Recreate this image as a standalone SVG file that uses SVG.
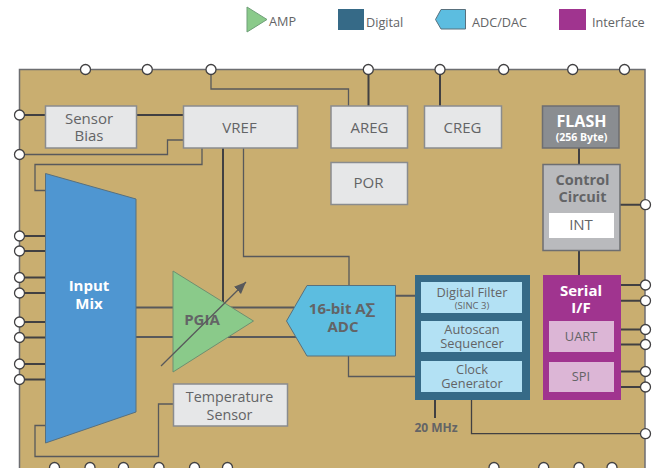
<svg xmlns="http://www.w3.org/2000/svg" width="656" height="468" viewBox="0 0 656 468">
<style>
text{font-family:"Open Sans","Noto Sans","Liberation Sans",sans-serif;fill:#636466;text-anchor:middle}
.l{font-size:12.7px;text-anchor:start}
.t{font-size:15px}
.s{font-size:12.8px}
.b{font-weight:700}
.w{fill:#fff}
.box{fill:#e6e7e8;stroke:#8a8c8e;stroke-width:1.5}
.thin{fill:none;stroke:#58595b;stroke-width:1.3}
.thick{fill:none;stroke:#414042;stroke-width:2}
.pin{fill:#fff;stroke:#414042;stroke-width:1.3}
.lt{fill:#b3e1f4}
.lp{fill:#dcb6d6}
</style>
<defs>
<circle id="p" class="pin" r="5"/>
<marker id="ah" markerUnits="userSpaceOnUse" markerWidth="14" markerHeight="12" refX="12" refY="5" orient="auto"><path d="M0 0L12 5L0 10z" fill="#58595b"/></marker>
</defs>
<g id="legend">
<path d="M247 7L267 19.5L247 32z" fill="#8aca8a" stroke="#6f9f78"/>
<text class="l" x="269" y="26">AMP</text>
<rect x="338" y="9" width="26" height="21" fill="#366a87"/>
<text class="l" x="366" y="26.500">Digital</text>
<path d="M435.500 19.500L441 9.500H465.500V29H441z" fill="#5cbde0" stroke="#58707d"/>
<text class="l" x="472" y="26.500">ADC/DAC</text>
<rect x="559" y="9" width="27" height="21" fill="#a0348f"/>
<text class="l" x="592" y="26.500">Interface</text>
</g>
<g id="chip"><path d="M19.500 475V69.500H645V475z" fill="#c9ae70" stroke="#6d6e71" stroke-width="1.500"/></g>
<g id="connectors">
<path class="thick" d="M19.500 115H183.500M223 148V307M368.500 69.500V106M440 69.500V106M579 148V164.500M579 250V275M620 204.700H645"/>
<path class="thin" d="M19.500 154.500H167.500V140H183.500M202 148V164.500H35V190.500H45.500M243.500 148V256.500H349V285.500M211 69.500V89H348.500V106M173.500 404H158.500V456.500H35V425.500H45.500M348.500 356V376.500H422"/>
<path class="thick" style="stroke:#58595b" d="M136 307.500H294M136 337H300M395.500 295.700H415"/>
<path class="thick" d="M19.500 236H45.500M19.500 251H45.500M19.500 277.500H45.500M19.500 293H45.500M19.500 322H45.500M19.500 337.500H45.500M19.500 364H45.500M19.500 379.500H45.500M621 285H645M621 300.700H645M621 329.500H645M621 344.500H645M621 371.500H645M621 387H645M435 391V418"/>
<path class="thin" style="stroke:#414042" d="M471.500 391V433.700H645"/>
</g>
<g id="sensor-bias"><rect class="box" x="45.500" y="106" width="91" height="42"/><text class="t"><tspan x="89" y="124">Sensor</tspan><tspan x="89" y="141">Bias</tspan></text></g>
<g id="vref"><rect class="box" x="183.500" y="106" width="114" height="42"/><text class="t" x="239.500" y="133">VREF</text></g>
<g id="areg"><rect class="box" x="331" y="106" width="76.500" height="42"/><text class="t" x="369.500" y="133">AREG</text></g>
<g id="creg"><rect class="box" x="424.500" y="106" width="77" height="42"/><text class="t" x="462.500" y="133">CREG</text></g>
<g id="por"><rect class="box" x="331" y="162.500" width="76.500" height="42"/><text class="t" x="368.500" y="188">POR</text></g>
<g id="flash"><rect x="542.500" y="106" width="76.500" height="42" fill="#8a8d91" stroke="#6d6e71" stroke-width="1.500"/><text class="b w" x="581.500" y="127" font-size="16">FLASH</text><text class="b w" x="581.500" y="141" font-size="10.500">(256 Byte)</text></g>
<g id="control-circuit"><rect x="543" y="164.500" width="77" height="86" fill="#b9babd" stroke="#6d6e71" stroke-width="1.500"/><text class="b" font-size="14.500"><tspan x="582.500" y="185">Control</tspan><tspan x="582.500" y="202">Circuit</tspan></text><rect x="549" y="213" width="65" height="25" fill="#fff"/><text class="t" x="581" y="230">INT</text></g>
<g id="input-mix"><path d="M45.500 173.500L136 199V412L45.500 443z" fill="#4f96d1" stroke="#58707d"/><text class="t b w"><tspan x="89" y="291">Input</tspan><tspan x="89" y="309">Mix</tspan></text></g>
<g id="pgia"><path d="M173 271L253.500 321L173 372z" fill="#8aca8a" stroke="#6f8f70"/><text class="t b" x="202" y="325">PGIA</text><path class="thin" d="M161 366L246 282" marker-end="url(#ah)"/></g>
<g id="adc"><path d="M286.500 321L307 285.500H395.500V356H307z" fill="#5cbde0" stroke="#58707d"/><text class="t b" x="342" y="314">16-bit A∑</text><text class="t b" x="343" y="331.500">ADC</text></g>
<g id="temperature-sensor"><rect class="box" x="173.500" y="384" width="114" height="42"/><text font-size="14.300"><tspan x="229.500" y="402">Temperature</tspan><tspan x="229.500" y="420">Sensor</tspan></text></g>
<g id="digital"><rect x="415" y="275" width="115" height="125" fill="#366a87"/><rect class="lt" x="421" y="282" width="101" height="31"/><text class="s" x="472" y="297">Digital Filter</text><text x="472" y="309" font-size="9.500">(SINC 3)</text><rect class="lt" x="421" y="321" width="101" height="31"/><text class="s"><tspan x="472" y="334">Autoscan</tspan><tspan x="472" y="348">Sequencer</tspan></text><rect class="lt" x="421" y="361" width="101" height="31"/><text class="s"><tspan x="472" y="374">Clock</tspan><tspan x="472" y="388">Generator</tspan></text></g>
<g id="serial-if"><rect x="543" y="275" width="78" height="125" fill="#a0348f"/><text class="t b w"><tspan x="581" y="296">Serial</tspan><tspan x="581" y="313">I/F</tspan></text><rect class="lp" x="549" y="321" width="65" height="31"/><text class="s" x="581" y="341">UART</text><rect class="lp" x="549" y="362" width="65" height="30"/><text class="s" x="581" y="381">SPI</text></g>
<g id="clock-label"><text class="b" x="436" y="432" font-size="12">20 MHz</text></g>
<g id="pins">
<use href="#p" x="85.500" y="69.500"/><use href="#p" x="147.300" y="69.500"/><use href="#p" x="211" y="69.500"/><use href="#p" x="368.300" y="69.500"/><use href="#p" x="440" y="69.500"/><use href="#p" x="503.700" y="69.500"/><use href="#p" x="572.700" y="69.500"/><use href="#p" x="624.500" y="69.500"/>
<use href="#p" x="19.500" y="115"/><use href="#p" x="19.500" y="154.500"/><use href="#p" x="19.500" y="236"/><use href="#p" x="19.500" y="251"/><use href="#p" x="19.500" y="277.500"/><use href="#p" x="19.500" y="293"/><use href="#p" x="19.500" y="322"/><use href="#p" x="19.500" y="337.500"/><use href="#p" x="19.500" y="364"/><use href="#p" x="19.500" y="379.500"/>
<use href="#p" x="645.500" y="204.700"/><use href="#p" x="645.500" y="285"/><use href="#p" x="645.500" y="300.700"/><use href="#p" x="645.500" y="329.500"/><use href="#p" x="645.500" y="344.500"/><use href="#p" x="645.500" y="371.500"/><use href="#p" x="645.500" y="387"/><use href="#p" x="645.500" y="433.700"/>
<use href="#p" x="54.500" y="467.500"/><use href="#p" x="90" y="467.500"/><use href="#p" x="123.500" y="467.500"/><use href="#p" x="159" y="467.500"/><use href="#p" x="194.500" y="467.500"/><use href="#p" x="227.500" y="467.500"/><use href="#p" x="494" y="467.500"/><use href="#p" x="543.700" y="467.500"/><use href="#p" x="579" y="467.500"/><use href="#p" x="612" y="467.500"/>
</g>
</svg>
